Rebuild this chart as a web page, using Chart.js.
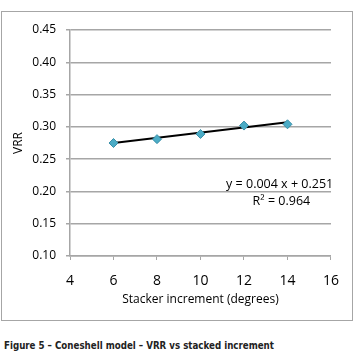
<!DOCTYPE html>
<html>
<head>
<meta charset="utf-8">
<script src="https://cdn.jsdelivr.net/npm/chart.js@4"></script>
<style>
  body { margin: 0; background: #fff; width: 355px; height: 355px; position: relative; overflow: hidden; }
  #box { position: absolute; left: 1px; top: 11px; width: 350px; height: 308px; border: 1px solid #a6a6a6; }
  #caption { position: absolute; left: 4px; top: 339px; font-family: 'Liberation Sans Narrow', 'DejaVu Sans Condensed', 'Liberation Sans', sans-serif; font-weight: bold; font-size: 10.5px; color: #222; white-space: nowrap; transform: scaleX(0.92); transform-origin: 0 0; }
</style>
</head>
<body>
<div id="box"><canvas id="chart" width="350" height="308"></canvas></div>
<div id="caption">Figure 5 – Coneshell model – VRR vs stacked increment</div>
<script>
// data
const increments = [6, 8, 10, 12, 14];
const vrr = [0.275, 0.281, 0.289, 0.302, 0.304];
const trendX = [6, 14];
const trendY = [0.275, 0.307];
const xTicks = [4, 6, 8, 10, 12, 14, 16];
const equationText = 'y = 0.004 x + 0.251';
const r2Text = 'R² = 0.964';

const FONT = "'Open Sans', 'Liberation Sans', sans-serif";

// text labels for the regression
const equationPlugin = {
    id: 'equation',
    afterDatasetsDraw(chart) {
        const ctx = chart.ctx;
        const x = chart.scales.x, y = chart.scales.y;
        ctx.save();
        ctx.fillStyle = '#000';
        ctx.font = '12.5px ' + FONT;
        ctx.textBaseline = 'middle';
        ctx.textAlign = 'right';
        ctx.fillText(equationText, x.getPixelForValue(16.1), y.getPixelForValue(0.211));
        ctx.textAlign = 'center';
        ctx.fillText(r2Text, x.getPixelForValue(13.72), y.getPixelForValue(0.1845));
        ctx.restore();
    }
};

new Chart(document.getElementById('chart'), {
    type: 'scatter',
    data: {
        datasets: [
            {
                label: 'Trend',
                data: trendX.map((v, i) => ({ x: v, y: trendY[i] })),
                showLine: true,
                borderColor: '#000',
                borderWidth: 2,
                pointRadius: 0,
                order: 1
            },
            {
                label: 'VRR',
                data: increments.map((v, i) => ({ x: v, y: vrr[i] })),
                pointStyle: 'rectRot',
                pointRadius: 4.5,
                backgroundColor: '#4bacc6',
                borderColor: '#3a8fa8',
                borderWidth: 1,
                order: 0
            }
        ]
    },
    options: {
        responsive: false,
        animation: false,
        layout: { padding: { top: 18, right: 17, left: 4, bottom: 6 } },
        plugins: { legend: { display: false }, tooltip: { enabled: false } },
        scales: {
            x: {
                type: 'linear',
                min: 4, max: 16,
                afterBuildTicks: (s) => { s.ticks = xTicks.map(v => ({ value: v })); },
                afterFit: (s) => { s.height = 58; },
                grid: { drawOnChartArea: false, drawTicks: true, tickLength: 4, color: '#a6a6a6' },
                border: { color: '#a6a6a6', width: 1.5 },
                ticks: { color: '#000', font: { family: FONT, size: 14 }, padding: 13 },
                title: { display: true, text: 'Stacker increment (degrees)', color: '#000', font: { family: FONT, size: 12 }, padding: { top: 0, bottom: 7 } }
            },
            y: {
                min: 0.10, max: 0.45,
                afterFit: (s) => { s.width = 64; },
                ticks: { stepSize: 0.05, color: '#000', font: { family: FONT, size: 12 }, padding: 10, callback: v => v.toFixed(2) },
                grid: { color: '#a6a6a6', lineWidth: 1.5, drawTicks: true, tickLength: 4 },
                border: { color: '#a6a6a6', width: 1.5 },
                title: { display: true, text: 'VRR', color: '#000', font: { family: FONT, size: 12 }, padding: { top: 5, bottom: 0 } }
            }
        }
    },
    plugins: [equationPlugin]
});
</script>
</body>
</html>
